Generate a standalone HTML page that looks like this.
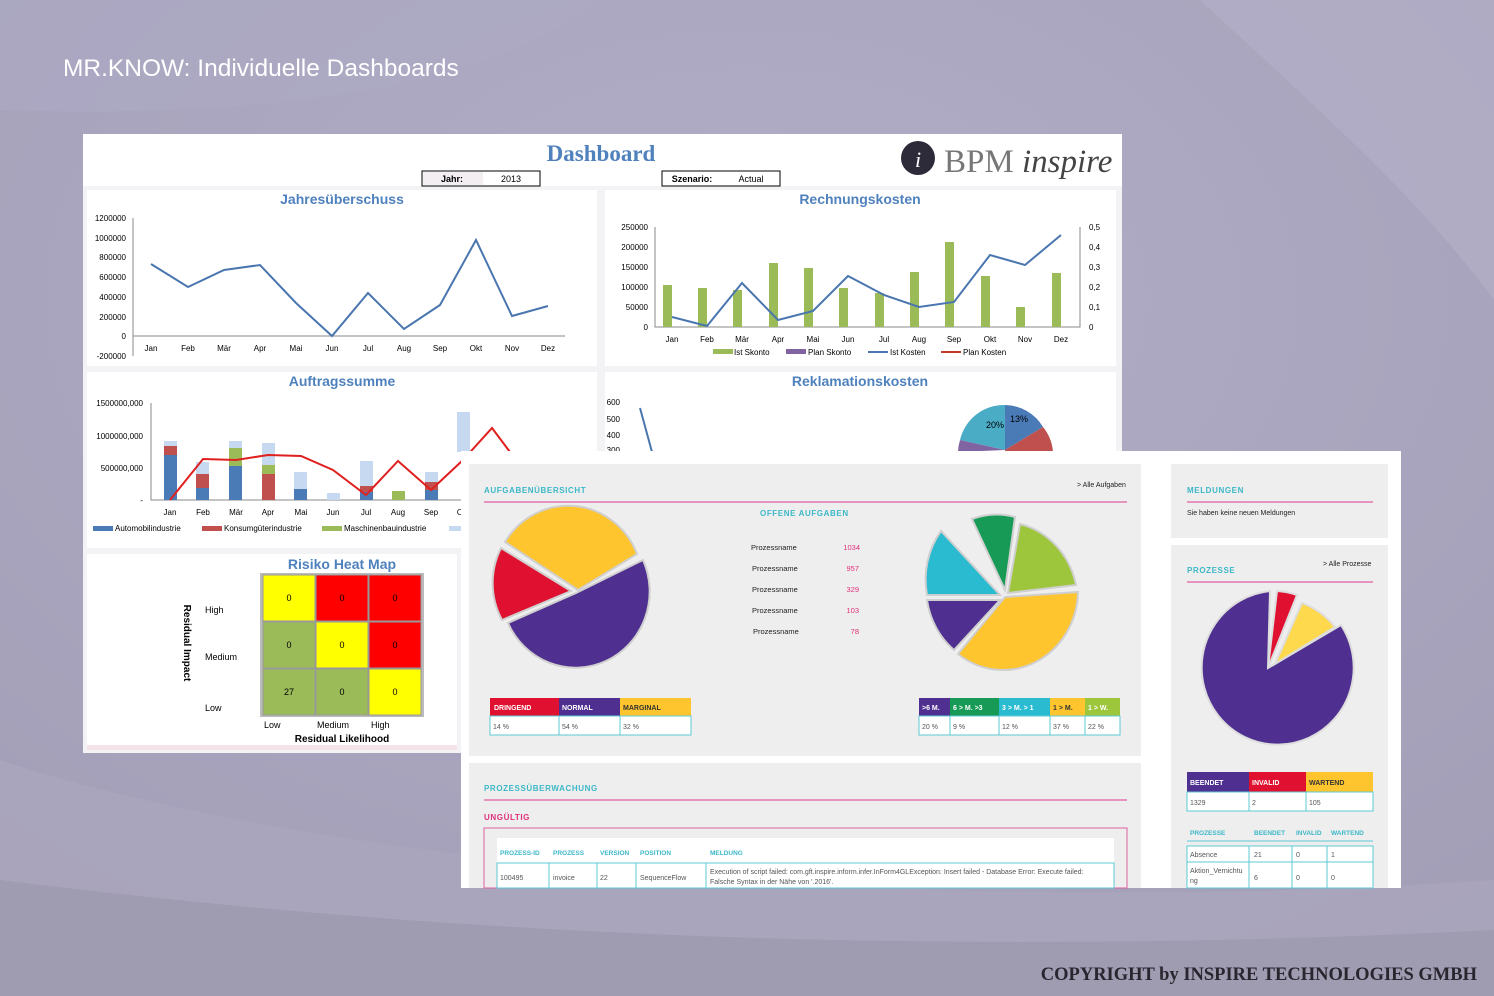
<!DOCTYPE html>
<html><head><meta charset="utf-8"><style>
body{margin:0;width:1494px;height:996px;overflow:hidden;background:#a6a2ba}
svg{display:block}
text{font-family:"Liberation Sans",sans-serif}
</style></head><body>
<svg width="1494" height="996" viewBox="0 0 1494 996">
<defs>
<radialGradient id="bg" cx="0.5" cy="0.3" r="0.8"><stop offset="0" stop-color="#b2aec8"/><stop offset="1" stop-color="#a29eb6"/></radialGradient>
</defs>
<rect width="1494" height="996" fill="url(#bg)"/>
<path d="M0 0 L600 0 C500 80 300 120 0 110Z" fill="#aeaac4" opacity="0.6"/>
<path d="M1200 0 L1494 0 L1494 300 C1420 200 1330 120 1200 0Z" fill="#b8b4cc" opacity="0.5"/>
<path d="M0 760 C300 860 900 920 1494 880 L1494 996 L0 996Z" fill="#aba7bd" opacity="0.7"/>
<path d="M0 880 C400 930 900 960 1494 930 L1494 996 L0 996Z" fill="#9f9bb0"/>
<text x="63" y="76" font-size="24.5" fill="#fff">MR.KNOW: Individuelle Dashboards</text>
<text x="1477" y="980" font-size="18.5" font-weight="bold" fill="#2a2630" text-anchor="end" style="font-family:'Liberation Serif',serif">COPYRIGHT by INSPIRE TECHNOLOGIES GMBH</text>

<!-- left panel -->
<rect x="83" y="134" width="1039" height="619" fill="#f3f2f4"/>
<rect x="83" y="134" width="1039" height="52" fill="#fff"/>
<text x="601" y="161" font-size="23" font-weight="bold" fill="#4f81bd" text-anchor="middle" style="font-family:'Liberation Serif',serif">Dashboard</text>
<rect x="422" y="171" width="118" height="15" fill="#fff" stroke="#000"/>
<rect x="423" y="172" width="60" height="13" fill="#f2eef2"/>
<text x="452" y="182" font-size="9" font-weight="bold" text-anchor="middle">Jahr:</text>
<text x="511" y="182" font-size="9" text-anchor="middle">2013</text>
<rect x="662" y="171" width="118" height="15" fill="#fff" stroke="#000"/>
<text x="692" y="182" font-size="9" font-weight="bold" text-anchor="middle">Szenario:</text>
<text x="751" y="182" font-size="9" text-anchor="middle">Actual</text>
<circle cx="918" cy="158" r="17" fill="#2d2a3a"/>
<text x="918" y="167" font-size="22" fill="#fff" text-anchor="middle" style="font-family:'Liberation Serif',serif;font-style:italic">i</text>
<text x="944" y="172" font-size="33" fill="#777" style="font-family:'Liberation Serif',serif">BPM <tspan font-style="italic" fill="#444">inspire</tspan></text>

<!-- Jahresueberschuss -->
<rect x="87" y="190" width="510" height="176" fill="#fff"/>
<text x="342" y="204" font-size="14" font-weight="bold" fill="#4f81bd" text-anchor="middle">Jahresüberschuss</text>
<g font-size="8" fill="#000" text-anchor="end">
<text x="126" y="221">1200000</text><text x="126" y="241">1000000</text><text x="126" y="260">800000</text><text x="126" y="280">600000</text><text x="126" y="300">400000</text><text x="126" y="320">200000</text><text x="126" y="339">0</text><text x="126" y="359">-200000</text>
</g>
<path d="M133 218 V356 M133 336 H565" stroke="#888" fill="none"/>
<g font-size="8" text-anchor="middle">
<text x="151" y="351">Jan</text><text x="188" y="351">Feb</text><text x="224" y="351">Mär</text><text x="260" y="351">Apr</text><text x="296" y="351">Mai</text><text x="332" y="351">Jun</text><text x="368" y="351">Jul</text><text x="404" y="351">Aug</text><text x="440" y="351">Sep</text><text x="476" y="351">Okt</text><text x="512" y="351">Nov</text><text x="548" y="351">Dez</text>
</g>
<polyline points="151,264 188,287 224,270 260,265 296,303 332,336 368,293 404,329 440,305 476,240 512,316 548,306" fill="none" stroke="#4a76b0" stroke-width="2"/>

<!-- Rechnungskosten -->
<rect x="605" y="190" width="511" height="176" fill="#fff"/>
<text x="860" y="204" font-size="14" font-weight="bold" fill="#4f81bd" text-anchor="middle">Rechnungskosten</text>
<g font-size="8" text-anchor="end">
<text x="648" y="230">250000</text><text x="648" y="250">200000</text><text x="648" y="270">150000</text><text x="648" y="290">100000</text><text x="648" y="310">50000</text><text x="648" y="330">0</text>
</g>
<g font-size="8">
<text x="1089" y="230">0,5</text><text x="1089" y="250">0,4</text><text x="1089" y="270">0,3</text><text x="1089" y="290">0,2</text><text x="1089" y="310">0,1</text><text x="1089" y="330">0</text>
</g>
<path d="M655 227 V327 H1080 V227" stroke="#888" fill="none"/>
<g fill="#9bbb59">
<rect x="663" y="285" width="9" height="42"/><rect x="698" y="288" width="9" height="39"/><rect x="733" y="290" width="9" height="37"/><rect x="769" y="263" width="9" height="64"/><rect x="804" y="268" width="9" height="59"/><rect x="839" y="288" width="9" height="39"/><rect x="875" y="293" width="9" height="34"/><rect x="910" y="272" width="9" height="55"/><rect x="945" y="242" width="9" height="85"/><rect x="981" y="276" width="9" height="51"/><rect x="1016" y="307" width="9" height="20"/><rect x="1052" y="273" width="9" height="54"/>
</g>
<polyline points="672,317 707,326 742,283 778,320 813,311 848,276 884,295 919,307 954,302 990,255 1025,265 1061,235" fill="none" stroke="#4a76b0" stroke-width="2"/>
<g font-size="8" text-anchor="middle">
<text x="672" y="342">Jan</text><text x="707" y="342">Feb</text><text x="742" y="342">Mär</text><text x="778" y="342">Apr</text><text x="813" y="342">Mai</text><text x="848" y="342">Jun</text><text x="884" y="342">Jul</text><text x="919" y="342">Aug</text><text x="954" y="342">Sep</text><text x="990" y="342">Okt</text><text x="1025" y="342">Nov</text><text x="1061" y="342">Dez</text>
</g>
<g font-size="8">
<rect x="713" y="349" width="20" height="5" fill="#9bbb59"/><text x="734" y="355">Ist Skonto</text>
<rect x="786" y="349" width="20" height="5" fill="#8064a2"/><text x="808" y="355">Plan Skonto</text>
<line x1="868" y1="352" x2="888" y2="352" stroke="#4a76b0" stroke-width="2"/><text x="890" y="355">Ist Kosten</text>
<line x1="941" y1="352" x2="961" y2="352" stroke="#c0392b" stroke-width="2"/><text x="963" y="355">Plan Kosten</text>
</g>

<!-- Auftragssumme -->
<rect x="87" y="372" width="510" height="176" fill="#fff"/>
<text x="342" y="386" font-size="14" font-weight="bold" fill="#4f81bd" text-anchor="middle">Auftragssumme</text>
<g font-size="8" text-anchor="end"><text x="143" y="406">1500000,000</text><text x="143" y="439">1000000,000</text><text x="143" y="471">500000,000</text><text x="143" y="503">-</text></g>
<path d="M151 403 V500 H470" stroke="#888" fill="none"/>
<g>
<rect x="164" y="455" width="13" height="45" fill="#4a7bb7"/><rect x="164" y="446" width="13" height="9" fill="#c0504d"/><rect x="164" y="441" width="13" height="5" fill="#c6d9f1"/>
<rect x="196" y="488" width="13" height="12" fill="#4a7bb7"/><rect x="196" y="474" width="13" height="14" fill="#c0504d"/><rect x="196" y="462" width="13" height="12" fill="#c6d9f1"/>
<rect x="229" y="466" width="13" height="34" fill="#4a7bb7"/><rect x="229" y="448" width="13" height="18" fill="#9bbb59"/><rect x="229" y="441" width="13" height="7" fill="#c6d9f1"/>
<rect x="262" y="474" width="13" height="26" fill="#c0504d"/><rect x="262" y="465" width="13" height="9" fill="#9bbb59"/><rect x="262" y="443" width="13" height="22" fill="#c6d9f1"/>
<rect x="294" y="489" width="13" height="11" fill="#4a7bb7"/><rect x="294" y="472" width="13" height="17" fill="#c6d9f1"/>
<rect x="327" y="493" width="13" height="7" fill="#c6d9f1"/>
<rect x="360" y="492" width="13" height="8" fill="#4a7bb7"/><rect x="360" y="486" width="13" height="6" fill="#c0504d"/><rect x="360" y="461" width="13" height="25" fill="#c6d9f1"/>
<rect x="392" y="491" width="13" height="9" fill="#9bbb59"/>
<rect x="425" y="490" width="13" height="10" fill="#4a7bb7"/><rect x="425" y="482" width="13" height="8" fill="#c0504d"/><rect x="425" y="472" width="13" height="10" fill="#c6d9f1"/>
<rect x="457" y="412" width="13" height="40" fill="#c6d9f1"/>
</g>
<polyline points="170,500 203,459 236,460 268,455 301,456 333,470 366,495 398,461 431,490 463,460 492,428 510,452" fill="none" stroke="#e0201f" stroke-width="2"/>
<g font-size="8" text-anchor="middle"><text x="170" y="515">Jan</text><text x="203" y="515">Feb</text><text x="236" y="515">Mär</text><text x="268" y="515">Apr</text><text x="301" y="515">Mai</text><text x="333" y="515">Jun</text><text x="366" y="515">Jul</text><text x="398" y="515">Aug</text><text x="431" y="515">Sep</text><text x="460" y="515">O</text></g>
<g font-size="8"><rect x="93" y="526" width="20" height="5" fill="#4a7bb7"/><text x="115" y="531">Automobilindustrie</text><rect x="202" y="526" width="20" height="5" fill="#c0504d"/><text x="224" y="531">Konsumgüterindustrie</text><rect x="322" y="526" width="20" height="5" fill="#9bbb59"/><text x="344" y="531">Maschinenbauindustrie</text><rect x="449" y="526" width="12" height="5" fill="#c6d9f1"/></g>

<!-- Reklamation -->
<rect x="605" y="372" width="511" height="80" fill="#fff"/>
<text x="860" y="386" font-size="14" font-weight="bold" fill="#4f81bd" text-anchor="middle">Reklamationskosten</text>
<g font-size="8" text-anchor="end"><text x="620" y="405">600</text><text x="620" y="422">500</text><text x="620" y="438">400</text><text x="620" y="453">300</text></g>
<polyline points="640,408 652,452" fill="none" stroke="#4a76b0" stroke-width="2"/>
<path d="M1005 450 L1005 405 A45 45 0 0 1 1043 427Z" fill="#4a7bb7"/>
<path d="M1005 450 L1043 427 A45 45 0 0 1 1053 452 L1005 452Z" fill="#c0504d"/>
<path d="M1005 450 L960 440 A45 45 0 0 1 1005 405Z" fill="#4bacc6"/>
<path d="M1005 450 L958 452 A45 45 0 0 1 960 440Z" fill="#8064a2"/>
<text x="986" y="428" font-size="9">20%</text><text x="1010" y="422" font-size="9">13%</text>

<!-- Risk heat map -->
<rect x="87" y="554" width="370" height="196" fill="#fff"/>
<rect x="87" y="745" width="370" height="5" fill="#f4e4ea"/>
<text x="342" y="569" font-size="14" font-weight="bold" fill="#4f81bd" text-anchor="middle">Risiko Heat Map</text>
<rect x="260" y="573" width="164" height="144" fill="#bbb"/>
<g stroke="#999">
<rect x="263" y="575" width="52" height="46" fill="#ffff00"/><rect x="316" y="575" width="52" height="46" fill="#ff0000"/><rect x="369" y="575" width="52" height="46" fill="#ff0000"/>
<rect x="263" y="622" width="52" height="46" fill="#9bbb59"/><rect x="316" y="622" width="52" height="46" fill="#ffff00"/><rect x="369" y="622" width="52" height="46" fill="#ff0000"/>
<rect x="263" y="669" width="52" height="46" fill="#9bbb59"/><rect x="316" y="669" width="52" height="46" fill="#9bbb59"/><rect x="369" y="669" width="52" height="46" fill="#ffff00"/>
</g>
<g font-size="9" text-anchor="middle"><text x="289" y="601">0</text><text x="342" y="601">0</text><text x="395" y="601">0</text><text x="289" y="648">0</text><text x="342" y="648">0</text><text x="395" y="648">0</text><text x="289" y="695">27</text><text x="342" y="695">0</text><text x="395" y="695">0</text></g>
<g font-size="9"><text x="205" y="613">High</text><text x="205" y="660">Medium</text><text x="205" y="711">Low</text><text x="264" y="728">Low</text><text x="317" y="728">Medium</text><text x="371" y="728">High</text></g>
<text x="342" y="742" font-size="10" font-weight="bold" text-anchor="middle">Residual Likelihood</text>
<text transform="translate(184,643) rotate(90)" font-size="10" font-weight="bold" text-anchor="middle">Residual Impact</text>

<!-- right panel -->
<rect x="461" y="451" width="940" height="437" fill="#fff"/>
<rect x="469" y="464" width="672" height="292" fill="#eeeeee"/>
<rect x="1171" y="464" width="217" height="74" fill="#eeeeee"/>
<rect x="1171" y="545" width="217" height="343" fill="#eeeeee"/>
<rect x="469" y="763" width="672" height="125" fill="#eeeeee"/>
<g font-size="8" font-weight="bold" fill="#3cb8c8" letter-spacing="0.6">
<text x="484" y="493">AUFGABENÜBERSICHT</text><text x="760" y="516">OFFENE AUFGABEN</text>
<text x="1187" y="493">MELDUNGEN</text><text x="1187" y="573">PROZESSE</text>
<text x="484" y="791">PROZESSÜBERWACHUNG</text>
</g>
<text x="484" y="820" font-size="8" font-weight="bold" fill="#e0307a" letter-spacing="0.6">UNGÜLTIG</text>
<g stroke="#e060a0" stroke-width="1.2"><line x1="484" y1="502" x2="1127" y2="502"/><line x1="1187" y1="502" x2="1373" y2="502"/><line x1="1187" y1="582" x2="1373" y2="582"/><line x1="484" y1="800" x2="1127" y2="800"/></g>
<g font-size="7" fill="#222"><text x="1077" y="487">&gt; Alle Aufgaben</text><text x="1323" y="566">&gt; Alle Prozesse</text><text x="1187" y="515">Sie haben keine neuen Meldungen</text></g>
<g font-size="7.5" fill="#222"><text x="751" y="550">Prozessname</text><text x="752" y="571">Prozessname</text><text x="752" y="592">Prozessname</text><text x="752" y="613">Prozessname</text><text x="753" y="634">Prozessname</text></g>
<g font-size="7.5" fill="#e0307a" text-anchor="end"><text x="860" y="550">1034</text><text x="859" y="571">957</text><text x="859" y="592">329</text><text x="859" y="613">103</text><text x="859" y="634">78</text></g>

<!-- left pie -->
<g stroke="#cfcfcf" stroke-width="2">
<path d="M576 593 L643 560 A74 76 0 1 1 508 623Z" fill="#4f2f8f"/>
<path d="M571 591 L502 620 A74 76 0 0 1 501 548Z" fill="#e01030"/>
<path d="M578 590 L505 542 A74 76 0 0 1 637 554Z" fill="#fec52e"/>
</g>
<!-- right pie 2 -->
<g stroke="#cfcfcf" stroke-width="2">
<path d="M1005 597 L1078 592 A75 80 0 0 1 958 654Z" fill="#fec52e"/>
<path d="M1000 600 L954 650 A75 80 0 0 1 927 600Z" fill="#4f2f8f"/>
<path d="M1000 595 L927 595 A75 80 0 0 1 941 531Z" fill="#2bbbd0"/>
<path d="M1005 590 L972 519 A75 80 0 0 1 1015 517Z" fill="#169a55"/>
<path d="M1008 593 L1020 524 A75 80 0 0 1 1076 585Z" fill="#9dc63d"/>
</g>
<!-- prozesse pie -->
<g stroke="#ddd" stroke-width="2">
<path d="M1268 668 L1341 625 A76 77 0 1 1 1270 591Z" fill="#4f2f8f"/>
<path d="M1268 668 L1277 591 A76 77 0 0 1 1297 595Z" fill="#e01030"/>
<path d="M1275 664 L1302 603 A76 77 0 0 1 1335 627Z" fill="#fed84d"/>
</g>

<!-- legend tables -->
<g font-size="7" font-weight="bold" fill="#fff">
<rect x="490" y="698" width="69" height="18" fill="#e01030"/><text x="494" y="710">DRINGEND</text>
<rect x="559" y="698" width="61" height="18" fill="#4f2f8f"/><text x="562" y="710">NORMAL</text>
<rect x="620" y="698" width="71" height="18" fill="#fec52e"/><text x="623" y="710" fill="#333">MARGINAL</text>
<rect x="919" y="698" width="31" height="18" fill="#4f2f8f"/><text x="922" y="710">&gt;6 M.</text>
<rect x="950" y="698" width="49" height="18" fill="#169a55"/><text x="953" y="710">6 &gt; M. &gt;3</text>
<rect x="999" y="698" width="51" height="18" fill="#2bbbd0"/><text x="1002" y="710">3 &gt; M. &gt; 1</text>
<rect x="1050" y="698" width="35" height="18" fill="#fec52e"/><text x="1053" y="710" fill="#333">1 &gt; M.</text>
<rect x="1085" y="698" width="35" height="18" fill="#9dc63d"/><text x="1088" y="710">1 &gt; W.</text>
<rect x="1187" y="772" width="62" height="20" fill="#4f2f8f"/><text x="1190" y="785">BEENDET</text>
<rect x="1249" y="772" width="57" height="20" fill="#e01030"/><text x="1252" y="785">INVALID</text>
<rect x="1306" y="772" width="67" height="20" fill="#fec52e"/><text x="1309" y="785" fill="#333">WARTEND</text>
</g>
<g fill="#fff" stroke="#5ccbd6">
<rect x="490" y="716" width="201" height="19"/><rect x="919" y="716" width="201" height="19"/><rect x="1187" y="792" width="186" height="19"/>
</g>
<g stroke="#5ccbd6"><path d="M559 716 V735 M620 716 V735 M950 716V735 M999 716V735 M1050 716V735 M1085 716V735 M1249 792V811 M1306 792V811"/></g>
<g font-size="7" fill="#555"><text x="493" y="729">14 %</text><text x="562" y="729">54 %</text><text x="623" y="729">32 %</text><text x="922" y="729">20 %</text><text x="953" y="729">9 %</text><text x="1002" y="729">12 %</text><text x="1053" y="729">37 %</text><text x="1088" y="729">22 %</text><text x="1190" y="805">1329</text><text x="1252" y="805">2</text><text x="1309" y="805">105</text></g>

<!-- prozesse table -->
<g font-size="6.5" font-weight="bold" fill="#3cb8c8"><text x="1190" y="835">PROZESSE</text><text x="1254" y="835">BEENDET</text><text x="1296" y="835">INVALID</text><text x="1331" y="835">WARTEND</text></g>
<line x1="1187" y1="841" x2="1373" y2="841" stroke="#5ccbd6"/>
<rect x="1187" y="846" width="186" height="42" fill="#fff" stroke="#5ccbd6"/>
<path d="M1187 862 H1373 M1249 846 V888 M1292 846 V888 M1327 846 V888" stroke="#5ccbd6"/>
<g font-size="7" fill="#555"><text x="1190" y="857">Absence</text><text x="1254" y="857">21</text><text x="1296" y="857">0</text><text x="1331" y="857">1</text><text x="1190" y="873">Aktion_Vernichtu</text><text x="1190" y="883">ng</text><text x="1254" y="880">6</text><text x="1296" y="880">0</text><text x="1331" y="880">0</text></g>

<!-- ungueltig table -->
<rect x="484" y="828" width="643" height="60" fill="none" stroke="#e060a0"/>
<rect x="497" y="838" width="617" height="50" fill="#fff"/>
<g font-size="6.5" font-weight="bold" fill="#3cb8c8"><text x="500" y="855">PROZESS-ID</text><text x="553" y="855">PROZESS</text><text x="600" y="855">VERSION</text><text x="640" y="855">POSITION</text><text x="710" y="855">MELDUNG</text></g>
<rect x="497" y="863" width="617" height="25" fill="none" stroke="#5ccbd6"/>
<path d="M549 863V888 M597 863V888 M636 863V888 M706 863V888" stroke="#5ccbd6"/>
<g font-size="7" fill="#555"><text x="500" y="880">100495</text><text x="553" y="880">invoice</text><text x="600" y="880">22</text><text x="640" y="880">SequenceFlow</text><text x="710" y="874">Execution of script failed: com.gft.inspire.inform.infer.InForm4GLException: Insert failed - Database Error: Execute failed:</text><text x="710" y="884">Falsche Syntax in der Nähe von '.2016'.</text></g>
</svg>
</body></html>
